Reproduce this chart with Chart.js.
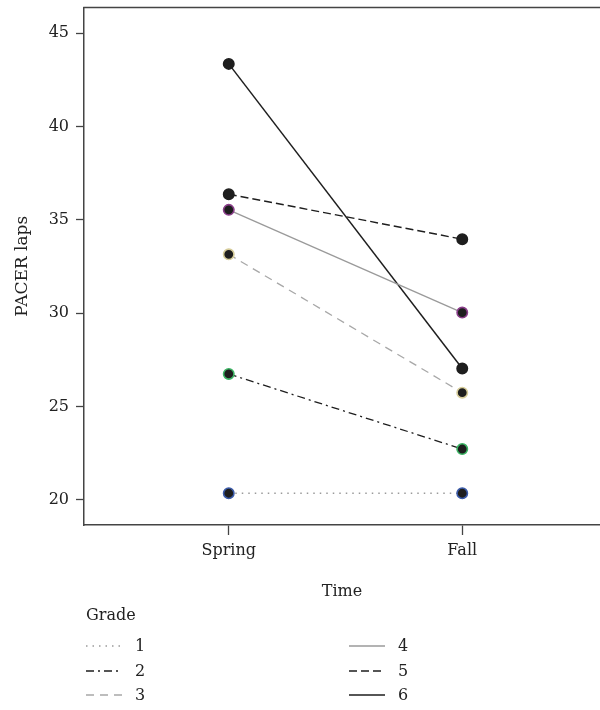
<!DOCTYPE html>
<html>
<head>
<meta charset="utf-8">
<script src="https://cdn.jsdelivr.net/npm/chart.js@4"></script>
<style>
  html, body { margin: 0; padding: 0; background: #fff; }
  #wrap { position: relative; width: 600px; height: 710px; }
  #c { position: absolute; left: 0; top: 0; }
  .lg { position: absolute; font-family: "DejaVu Serif", serif; font-size: 16px; color: #222; line-height: 20px; }
  .lg svg { position: absolute; }
</style>
</head>
<body>
<div id="wrap">
  <canvas id="c" width="600" height="710"></canvas>
  <div id="legend"></div>
</div>
<script>
// ---- data ----
const times = ["Spring", "Fall"];
const grades = ["1", "2", "3", "4", "5", "6"];
const grade1 = [20.36, 20.36];
const grade2 = [26.75, 22.73];
const grade3 = [33.16, 25.75];
const grade4 = [35.54, 30.04];
const grade5 = [36.38, 33.97];
const grade6 = [43.36, 27.04];
const yTicks = [20, 25, 30, 35, 40, 45];
const legendTitle = "Grade";
const xTitle = "Time";
const yTitle = "PACER laps";

// ---- styles ----
const seriesValues = [grade1, grade2, grade3, grade4, grade5, grade6];
const lineColors = ["#9a9a9a", "#1e1e1e", "#a8a8a8", "#9a9a9a", "#1e1e1e", "#1e1e1e"];
const lineDashes = [[1.5, 5], [8, 4, 2, 4], [8, 6], [], [8, 4], []];
const lineWidths = [1.3, 1.3, 1.3, 1.3, 1.4, 1.5];
const pointRims = ["#3a5aa8", "#3cb464", "#d6cc9a", "#8a3e8a", "#1e1e1e", "#1e1e1e"];

const datasets = grades.map((g, i) => ({
  label: g,
  data: times.map((t, j) => ({ x: j + 1, y: seriesValues[i][j] })),
  borderColor: lineColors[i],
  borderDash: lineDashes[i],
  borderWidth: lineWidths[i],
  pointBackgroundColor: "#1e1e1e",
  pointBorderColor: pointRims[i],
  pointBorderWidth: 1.6,
  pointRadius: 5.2,
  pointHoverRadius: 5.2,
  tension: 0,
  fill: false
}));

const fontFam = '"DejaVu Serif", serif';
const axisColor = "#444";

const topLine = {
  id: "topLine",
  afterDraw(chart) {
    const { ctx, chartArea } = chart;
    ctx.save();
    ctx.strokeStyle = axisColor;
    ctx.lineWidth = 1.5;
    ctx.beginPath();
    ctx.moveTo(chartArea.left - 0.75, chartArea.top);
    ctx.lineTo(600, chartArea.top);
    ctx.stroke();
    ctx.restore();
  }
};

new Chart(document.getElementById("c"), {
  type: "line",
  data: { datasets },
  plugins: [topLine],
  options: {
    responsive: false,
    animation: false,
    devicePixelRatio: 1,
    layout: { autoPadding: false, padding: { top: 7.5, right: 0, left: 0, bottom: 100 } },
    plugins: { legend: { display: false }, tooltip: { enabled: false } },
    scales: {
      x: {
        type: "linear",
        min: 0.38,
        max: 2.59,
        afterBuildTicks: s => { s.ticks = times.map((t, i) => ({ value: i + 1 })); },
        afterFit: s => { s.height = 85; s.paddingLeft = 0; s.paddingRight = 0; },
        grid: { display: true, drawOnChartArea: false, drawTicks: true, tickLength: 10, tickColor: axisColor, tickWidth: 1.3 },
        border: { display: true, color: axisColor, width: 1.5 },
        ticks: {
          padding: 6,
          color: "#222",
          font: { family: fontFam, size: 16 },
          maxRotation: 0,
          callback: v => times[v - 1]
        },
        title: { display: true, text: xTitle, color: "#222", font: { family: fontFam, size: 16 }, padding: { top: 0, bottom: 9 } }
      },
      y: {
        type: "linear",
        min: 18.66,
        max: 46.38,
        afterBuildTicks: s => { s.ticks = yTicks.map(v => ({ value: v })); },
        afterFit: s => { s.width = 84; s.paddingTop = 0; s.paddingBottom = 0; },
        grid: { display: true, drawOnChartArea: false, drawTicks: true, tickLength: 8, tickColor: axisColor, tickWidth: 1.3 },
        border: { display: true, color: axisColor, width: 1.5 },
        ticks: { padding: 7, color: "#222", font: { family: fontFam, size: 16 } },
        title: { display: true, text: yTitle, color: "#222", font: { family: fontFam, size: 17 }, padding: { top: 12, bottom: 0 } }
      }
    }
  }
});

// ---- HTML legend built from the datasets ----
const leg = document.getElementById("legend");
const t = document.createElement("div");
t.className = "lg";
t.style.left = "86px"; t.style.top = "605px";
t.textContent = legendTitle;
leg.appendChild(t);
const colX = [86, 349];
const rowY = [646, 670.5, 695];
datasets.forEach((d, i) => {
  const col = Math.floor(i / 3), row = i % 3;
  const x0 = colX[col], yc = rowY[row];
  const svgNS = "http://www.w3.org/2000/svg";
  const svg = document.createElementNS(svgNS, "svg");
  svg.setAttribute("width", "36"); svg.setAttribute("height", "6");
  svg.style.left = x0 + "px"; svg.style.top = (yc - 3) + "px";
  svg.style.position = "absolute";
  const ln = document.createElementNS(svgNS, "line");
  ln.setAttribute("x1", "0"); ln.setAttribute("x2", "36");
  ln.setAttribute("y1", "3"); ln.setAttribute("y2", "3");
  ln.setAttribute("stroke", d.borderColor);
  ln.setAttribute("stroke-width", d.borderWidth);
  if (d.borderDash.length) ln.setAttribute("stroke-dasharray", d.borderDash.join(" "));
  svg.appendChild(ln);
  leg.appendChild(svg);
  const lab = document.createElement("div");
  lab.className = "lg";
  lab.style.left = (x0 + 49) + "px"; lab.style.top = (yc - 10) + "px";
  lab.textContent = d.label;
  leg.appendChild(lab);
});
</script>
</body>
</html>
